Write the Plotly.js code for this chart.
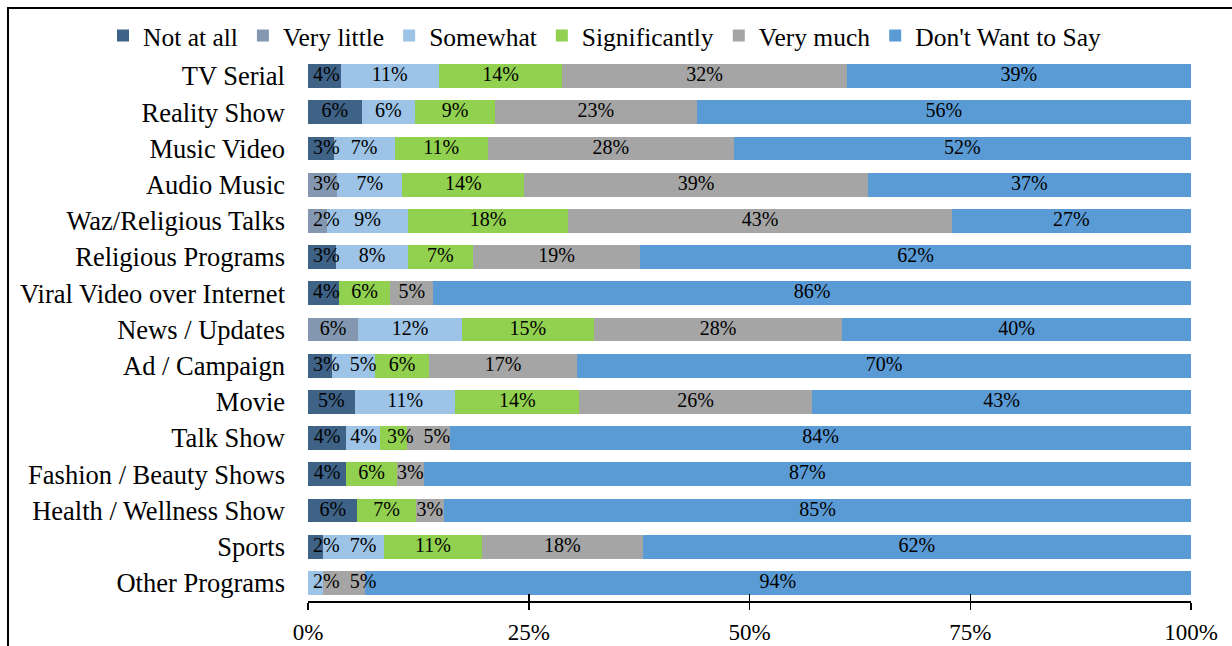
<!DOCTYPE html>
<html>
<head>
<meta charset="utf-8">
<script src="https://cdn.plot.ly/plotly-3.0.1.min.js"></script>
<style>
  html, body { margin: 0; padding: 0; background: #fff; }
  #wrap { position: relative; width: 1232px; height: 646px; overflow: hidden; }
  #chart { width: 1232px; height: 646px; }
  #frame { position: absolute; left: 7px; top: 7px; width: 1400px; height: 800px;
           border-left: 2px solid #000; border-top: 2px solid #000; pointer-events: none; }
</style>
</head>
<body>
<div id="wrap"><div id="chart"></div><div id="frame"></div></div>
<script>
const categories = ["TV Serial", "Reality Show", "Music Video", "Audio Music", "Waz/Religious Talks",
  "Religious Programs", "Viral Video over Internet", "News / Updates", "Ad / Campaign", "Movie",
  "Talk Show", "Fashion / Beauty Shows", "Health / Wellness Show", "Sports", "Other Programs"];

const seriesNames = ["Not at all", "Very little", "Somewhat", "Significantly", "Very much", "Don't Want to Say"];

const notAtAll      = [3.7, 6.1, 2.9, 0,    0,    3.2, 3.5,  0,    2.7,  5.3,  4.3, 4.3, 5.6, 1.7, 0];
const veryLittle    = [0,   0,   0,   3.3,  2.2,  0,   0,    5.7,  0,    0,    0,   0,   0,   0,   0];
const somewhat      = [11.1, 6.0, 6.9, 7.4, 9.1,  8.1, 0,    11.7, 4.9,  11.4, 3.8, 0,   0,   6.9, 1.7];
const significantly = [14.0, 9.1, 10.6, 13.8, 18.2, 7.4, 5.8, 15.0, 6.1, 14.0, 3.1, 5.8, 6.6, 11.1, 0];
const veryMuch      = [32.2, 22.8, 27.8, 38.9, 43.4, 18.9, 4.9, 28.1, 16.8, 26.4, 4.9, 3.0, 3.2, 18.2, 4.7];
const dontWant      = [39.0, 56.0, 51.8, 36.6, 27.1, 62.4, 85.8, 39.5, 69.5, 42.9, 83.9, 86.9, 84.6, 62.1, 93.6];

const tickVals = [0, 25, 50, 75, 100];
const tickText = ["0%", "25%", "50%", "75%", "100%"];

const colors = ["#3f6287", "#8497b0", "#9dc3e6", "#92d050", "#a5a5a5", "#5b9bd5"];
const seriesValues = [notAtAll, veryLittle, somewhat, significantly, veryMuch, dontWant];

const FONT = "'Liberation Serif', 'Times New Roman', serif";
const LABEL_SIZE = 20;
const W = 1232, H = 646, ML = 308, MR = 41, MT = 58, MB = 45;
const pxPerUnit = (W - ML - MR) / 100;
const axisPad = 5;        // px between axis and first label
const labelPad = 10;      // px padding of a label box

// approximate label box width (px) for the serif font
function labelWidth(t) {
  let w = 0;
  for (const ch of t) w += (ch === '%') ? 0.833 : 0.5;
  return w * LABEL_SIZE;
}

const traces = seriesValues.map((vals, i) => ({
  type: 'bar',
  orientation: 'h',
  name: seriesNames[i],
  y: categories,
  x: vals,
  marker: { color: colors[i], line: { width: 0 } },
  hoverinfo: 'skip'
}));

// value labels: centred on each stacked segment, nudged right so they never overlap
const labelX = seriesValues.map(() => []);
const labelT = seriesValues.map(() => []);
const labelY = seriesValues.map(() => []);
categories.forEach((cat, j) => {
  let cum = 0;
  let prevRightPx = axisPad - labelPad;   // in px from axis
  seriesValues.forEach((vals, i) => {
    const v = vals[j];
    if (v > 0) {
      const t = Math.round(v) + '%';
      const half = labelWidth(t) / 2;
      let cPx = (cum + v / 2) * pxPerUnit;
      cPx = Math.max(cPx, prevRightPx + labelPad + half);
      prevRightPx = cPx + half;
      labelX[i].push(cPx / pxPerUnit);
      labelY[i].push(cat);
      labelT[i].push(t);
    }
    cum += v;
  });
});
seriesValues.forEach((vals, i) => {
  traces.push({
    type: 'scatter', mode: 'text', x: labelX[i], y: labelY[i], text: labelT[i],
    textposition: 'middle center',
    textfont: { family: FONT, size: LABEL_SIZE, color: '#000' },
    showlegend: false, hoverinfo: 'skip', cliponaxis: false
  });
});

// empty helper trace to carry the upper half of the crossing x ticks
traces.push({ type: 'scatter', x: [], y: [], xaxis: 'x2', yaxis: 'y', showlegend: false, hoverinfo: 'skip' });

const plotH = H - MT - MB;
const layout = {
  width: W, height: H,
  margin: { l: ML, r: MR, t: MT, b: MB, autoexpand: false },
  paper_bgcolor: '#fff', plot_bgcolor: 'rgba(0,0,0,0)',
  barmode: 'stack',
  bargap: 0.34,
  font: { family: FONT, size: 20, color: '#000' },
  showlegend: true,
  legend: {
    orientation: 'h', traceorder: 'normal',
    xref: 'paper', yref: 'paper',
    x: (103 - ML) / (W - ML - MR), xanchor: 'left',
    y: 1 + (MT - 36) / plotH, yanchor: 'middle',
    bgcolor: 'rgba(0,0,0,0)',
    font: { family: FONT, size: 25.5, color: '#000' },
    itemclick: false, itemdoubleclick: false
  },
  xaxis: {
    range: [0, 100], autorange: false, tickvals: tickVals, ticktext: tickText,
    showgrid: false, zeroline: false,
    showline: true, linecolor: '#000', linewidth: 1.5,
    ticks: 'outside', ticklen: 7, tickwidth: 1.5, tickcolor: '#000',
    ticklabelstandoff: 3,
    tickfont: { family: FONT, size: 23, color: '#000' },
    fixedrange: true
  },
  xaxis2: {
    overlaying: 'x', anchor: 'y', side: 'bottom', matches: 'x',
    range: [0, 100], autorange: false, tickvals: tickVals, showticklabels: false,
    showgrid: false, zeroline: false, showline: false,
    ticks: 'inside', ticklen: 7, tickwidth: 1.5, tickcolor: '#000',
    fixedrange: true
  },
  yaxis: {
    type: 'category', autorange: false,
    range: [categories.length - 0.5, -0.5],
    showgrid: false, zeroline: false, showline: false, ticks: '',
    ticklabelstandoff: 22,
    tickfont: { family: FONT, size: 26.5, color: '#000' },
    fixedrange: true
  }
};

Plotly.newPlot('chart', traces, layout, { displayModeBar: false, staticPlot: true });
</script>
</body>
</html>
